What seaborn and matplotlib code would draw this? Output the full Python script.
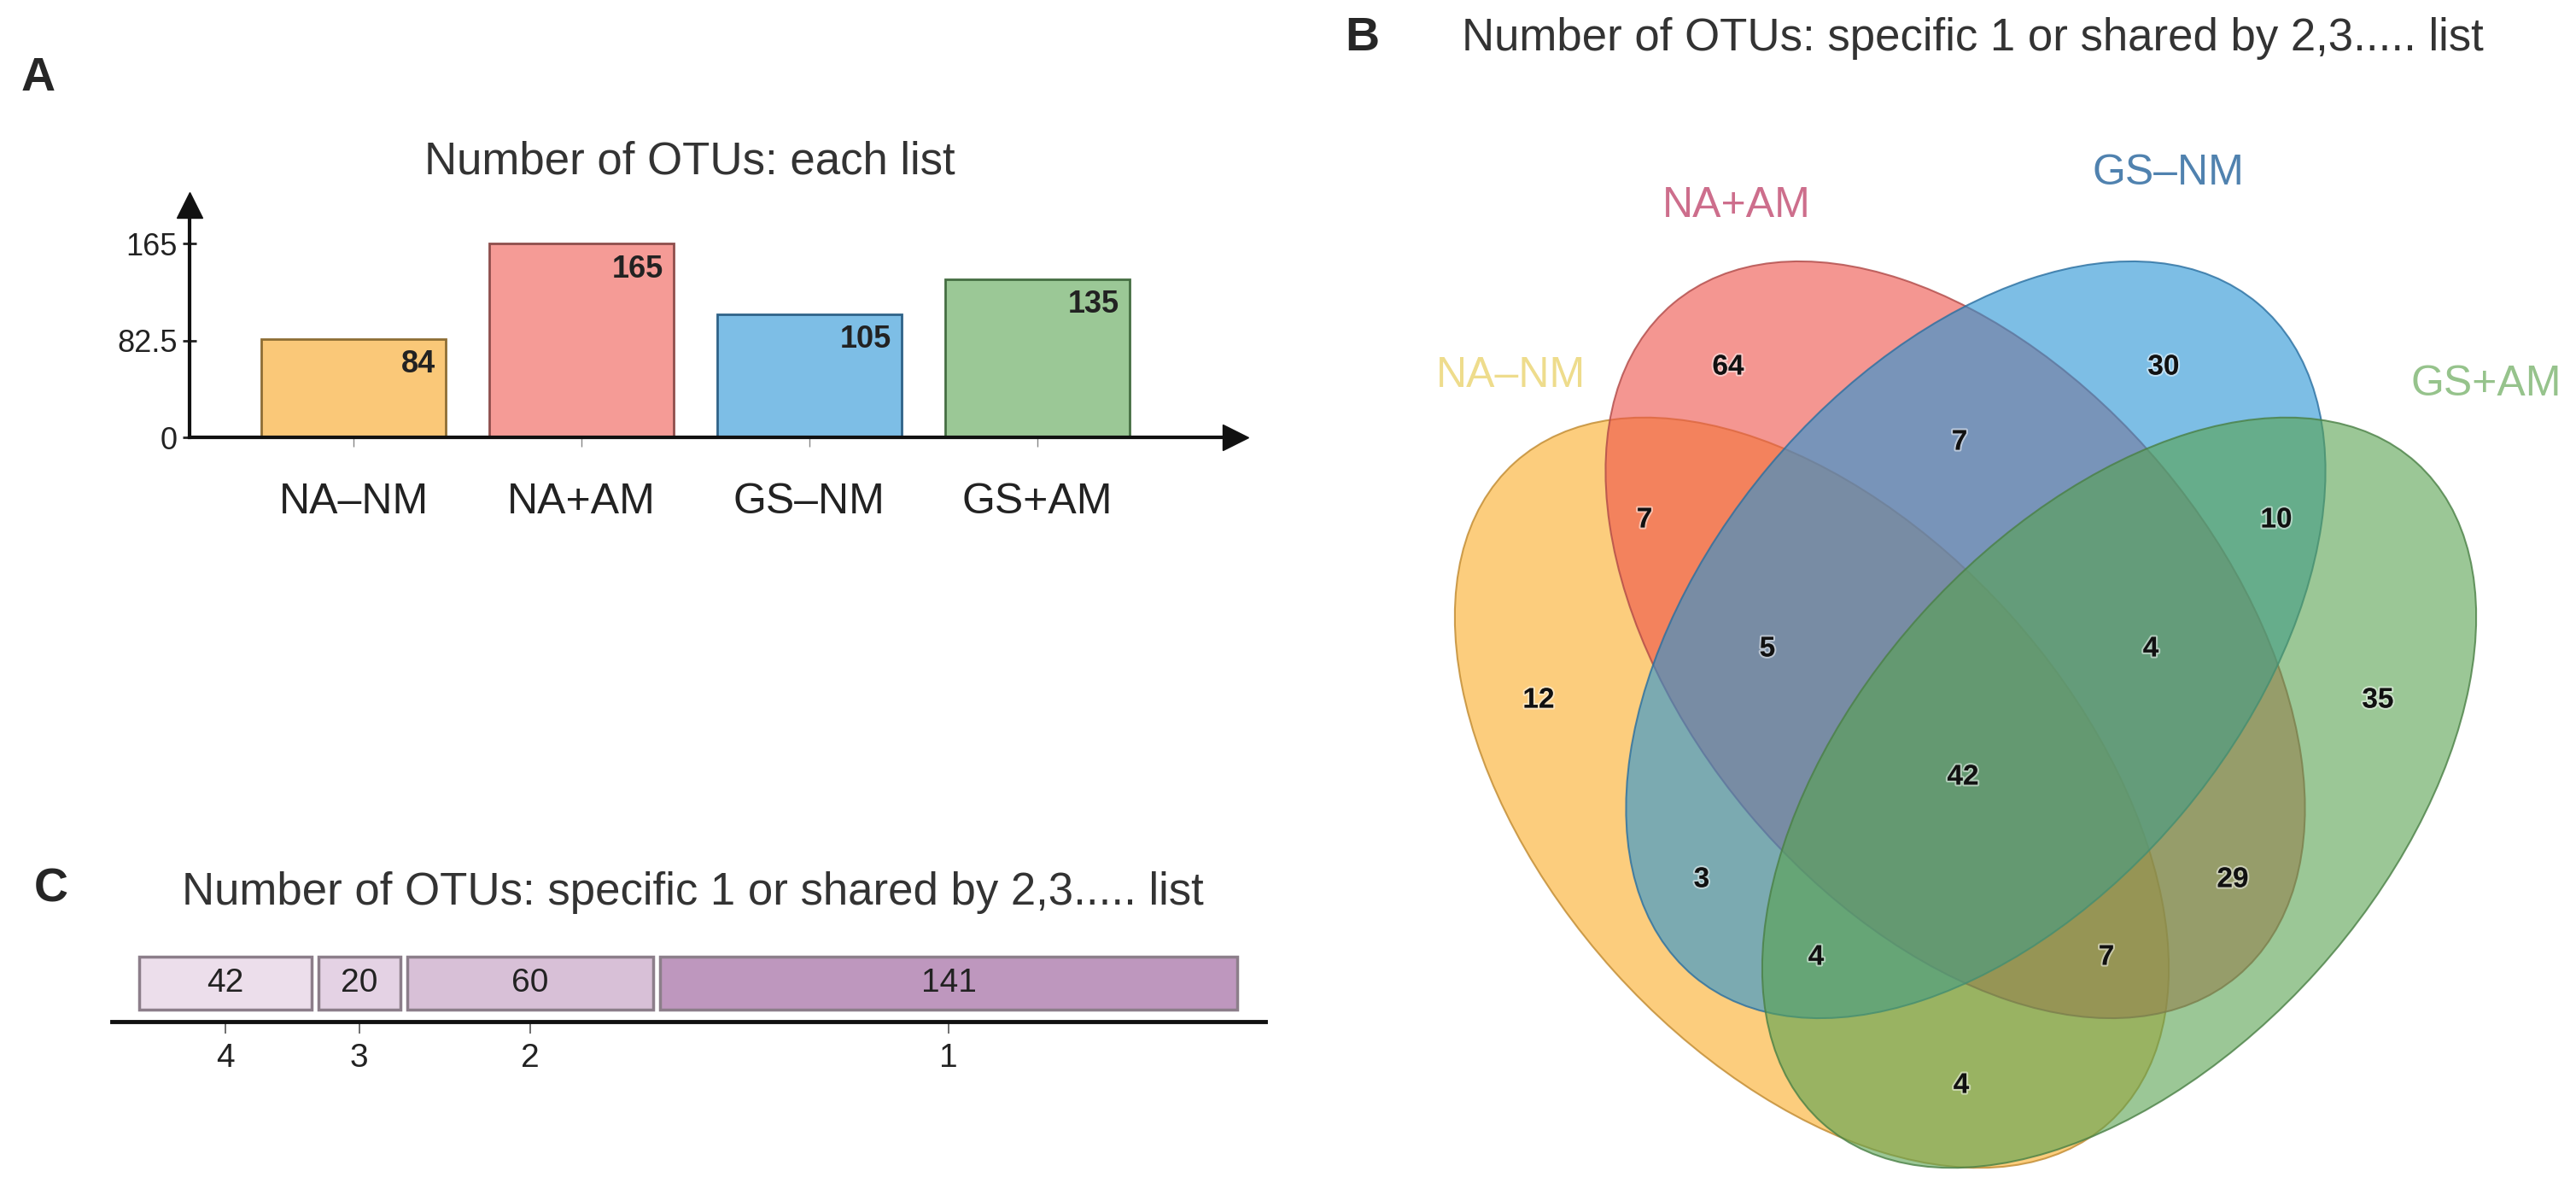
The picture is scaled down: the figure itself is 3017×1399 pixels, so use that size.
import numpy as np
import pandas as pd
import matplotlib
matplotlib.use("Agg")
import matplotlib.pyplot as plt
import seaborn as sns
from matplotlib.patches import Ellipse
import matplotlib.patheffects as pe

# ---------------- data ----------------
groups = ["NA–NM", "NA+AM", "GS–NM", "GS+AM"]
otu_counts = [84, 165, 105, 135]
y_ticks = [0, 82.5, 165]
y_tick_labels = ["0", "82.5", "165"]

share_levels = ["4", "3", "2", "1"]
share_counts = [42, 20, 60, 141]

venn_regions = ["NA–NM", "NA+AM", "GS–NM", "GS+AM",
                "NA–NM&NA+AM", "NA+AM&GS–NM", "GS–NM&GS+AM",
                "NA–NM&NA+AM&GS–NM", "NA+AM&GS–NM&GS+AM", "all",
                "NA–NM&GS–NM", "NA+AM&GS+AM",
                "NA–NM&GS–NM&GS+AM", "NA–NM&NA+AM&GS+AM", "NA–NM&GS+AM"]
venn_counts = [12, 64, 30, 35, 7, 7, 10, 5, 4, 42, 3, 29, 4, 7, 4]

# ---------------- style ----------------
bar_colors = ["#FAC878", "#F59B96", "#7DBEE6", "#9BC896"]
bar_edges = ["#8E6E34", "#8E4E4C", "#2F6288", "#456E42"]
share_colors = ["#ECDEEB", "#E4D2E4", "#D8C0D7", "#BE97BE"]
venn_fill = ["#FAAC26", "#EE5048", "#2693D5", "#58A350"]
venn_edge = ["#C08A30", "#B04A48", "#2A6FA0", "#4A8045"]
venn_label_colors = ["#EEDC8C", "#CD6E8C", "#5082AF", "#96C38C"]
# ellipse geometry in pixel space (cx, cy, semi-major, semi-minor, angle)
ell_geom = [(2122, 928, 520, 312, 48), (2290, 749, 514, 316, 50),
            (2314, 749, 514, 316, 130), (2482, 928, 520, 312, 132)]
venn_label_pos = [(1770, 440), (2034, 241), (2539, 203), (2912, 450)]
venn_count_pos = [(1802, 820), (2024, 430), (2534, 430), (2785, 820),
                  (1926, 609), (2295, 518), (2666, 609),
                  (2070, 760), (2519, 760), (2299, 910),
                  (1993, 1030), (2615, 1030),
                  (2127, 1121), (2467, 1121), (2297, 1271)]

sns.set_theme(style="white")
plt.rcParams["font.family"] = ["Liberation Sans", "DejaVu Sans"]
NARROW = ["Liberation Sans Narrow", "Liberation Sans", "DejaVu Sans"]
W, H = 3017, 1399
fig = plt.figure(figsize=(W / 100, H / 100), dpi=100)
fig.patch.set_facecolor("white")

# ---------------- panel A ----------------
axA = fig.add_axes([222 / W, 1 - 512 / H, (1447 - 222) / W, 272 / H])
dfA = pd.DataFrame({"group": groups, "count": otu_counts})
sns.barplot(data=dfA, x="group", y="count", hue="group", palette=bar_colors,
            saturation=1, width=0.81, legend=False, ax=axA, zorder=2)
for patch, ec in zip(axA.patches, bar_edges):
    patch.set_edgecolor(ec)
    patch.set_linewidth(2)
for i, v in enumerate(otu_counts):
    axA.text(i + 0.36, v - 9, str(v), ha="right", va="top", fontsize=26,
             family=NARROW, weight="bold", color="#222222")
axA.set_xlim(-0.72, 3.87)
axA.set_ylim(0, 198)
axA.set_xlabel("")
axA.set_ylabel("")
axA.set_yticks(y_ticks, y_tick_labels)
for lbl in axA.get_yticklabels():
    lbl.set_family(NARROW)
axA.tick_params(axis="y", direction="inout", length=12, width=2, labelsize=26,
                pad=4, colors="#222222", left=True)
axA.tick_params(axis="x", direction="out", length=8, width=1, color="#888888",
                labelsize=36, pad=30, labelcolor="#222222", bottom=True)
for s in ["top", "right"]:
    axA.spines[s].set_visible(False)
for s in ["left", "bottom"]:
    axA.spines[s].set_linewidth(3)
    axA.spines[s].set_color("#111111")
    axA.spines[s].set_zorder(3)
axA.plot([1], [0], marker=">", ms=22, color="#111111", transform=axA.transAxes,
         clip_on=False, zorder=4)
axA.plot([0], [1], marker="^", ms=22, color="#111111", transform=axA.transAxes,
         clip_on=False, zorder=4)
axA.patch.set_alpha(0)

# ---------------- panel C ----------------
px_per_unit = 4.8
gap = 8 / px_per_unit
c_axis_y, c_top_y = 1196, 1096
axC = fig.add_axes([131 / W, 1 - c_axis_y / H, (1482 - 131) / W, (c_axis_y - c_top_y) / H])
lefts = np.concatenate([[0], np.cumsum(share_counts)[:-1]]) + gap * np.arange(len(share_counts))
bar_bot = (c_axis_y - 1182) / (c_axis_y - c_top_y)
bar_top = (c_axis_y - 1120) / (c_axis_y - c_top_y)
bar_mid = (bar_bot + bar_top) / 2
axC.barh(y=[bar_mid] * len(share_counts), width=share_counts, left=lefts,
         height=bar_top - bar_bot, color=share_colors, edgecolor="#8C7E8A",
         linewidth=2.5, zorder=2)
centers = lefts + np.array(share_counts) / 2
for c, v in zip(centers, share_counts):
    axC.text(c, bar_mid, str(v), ha="center", va="center", fontsize=28,
             family=NARROW, color="#222222")
axC.set_xlim(-(163 - 131) / px_per_unit, (1482 - 163) / px_per_unit)
axC.set_ylim(0, 1)
axC.set_xticks(centers, share_levels)
for lbl in axC.get_xticklabels():
    lbl.set_family(NARROW)
axC.set_yticks([])
axC.tick_params(axis="x", direction="out", length=10, width=1.2, color="#555555",
                labelsize=28, pad=8, labelcolor="#222222", bottom=True)
for s in ["top", "right", "left"]:
    axC.spines[s].set_visible(False)
axC.spines["bottom"].set_linewidth(3.5)
axC.spines["bottom"].set_color("#111111")
axC.patch.set_alpha(0)

# ---------------- panel B (Venn) ----------------
axB = fig.add_axes([1500 / W, 0, (W - 1500) / W, 1])
axB.set_xlim(1500, W)
axB.set_ylim(H, 0)
axB.axis("off")
for (cx, cy, a, b, ang), fc, ec in zip(ell_geom, venn_fill, venn_edge):
    rgb = matplotlib.colors.to_rgb(fc)
    erg = matplotlib.colors.to_rgb(ec)
    axB.add_patch(Ellipse((cx, cy), 2 * a, 2 * b, angle=ang,
                          facecolor=(*rgb, 0.6), edgecolor=(*erg, 0.8), linewidth=1.5))
for name, (x, y), col in zip(groups, venn_label_pos, venn_label_colors):
    axB.text(x, y, name, ha="center", va="center", fontsize=36, color=col)
for v, (x, y) in zip(venn_counts, venn_count_pos):
    axB.text(x, y, str(v), ha="center", va="center", fontsize=24, weight="bold",
             family=NARROW, color="#111111",
             path_effects=[pe.withStroke(linewidth=3, foreground=(1, 1, 1, 0.5))])

# ---------------- titles & panel letters ----------------
fig.text(808 / W, 1 - 190 / H, "Number of OTUs: each list", ha="center", va="center",
         fontsize=38, color="#333333")
fig.text(2310 / W, 1 - 45 / H, "Number of OTUs: specific 1 or shared by 2,3..... list",
         ha="center", va="center", fontsize=38, color="#333333")
fig.text(811 / W, 1 - 1045 / H, "Number of OTUs: specific 1 or shared by 2,3..... list",
         ha="center", va="center", fontsize=38, color="#333333")
fig.text(45 / W, 1 - 92 / H, "A", ha="center", va="center", fontsize=40, weight="bold")
fig.text(1595 / W, 1 - 45 / H, "B", ha="center", va="center", fontsize=40, weight="bold")
fig.text(60 / W, 1 - 1042 / H, "C", ha="center", va="center", fontsize=40, weight="bold")

fig.savefig("out.png", dpi=100, facecolor="white")
